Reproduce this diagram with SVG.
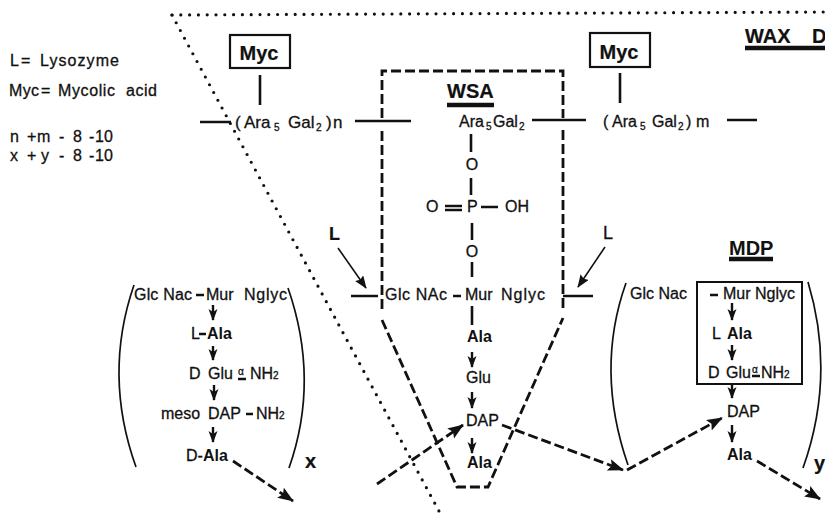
<svg xmlns="http://www.w3.org/2000/svg" width="825" height="513" viewBox="0 0 825 513">
<style>
text{font-family:"Liberation Sans",Arial,sans-serif;fill:#111;font-size:16px;stroke:#111;stroke-width:.3}
.b{font-weight:bold;stroke-width:0}
.h{font-weight:bold;font-size:20px;stroke-width:.2}
.g{font-size:17px}
.s{font-size:10px}
.l{stroke:#111;stroke-width:2.6;fill:none}
.t{stroke:#111;stroke-width:1.7;fill:none}
.u{stroke:#111;stroke-width:4.5;fill:none}
.dot{stroke:#111;stroke-width:3.2;fill:none;stroke-linecap:round;stroke-dasharray:0 8.8}
.d{stroke:#111;stroke-width:2.8;fill:none;stroke-dasharray:10 4}
.a{stroke:#111;stroke-width:2.4;fill:none;marker-end:url(#ah)}
.da{stroke:#111;stroke-width:2.8;fill:none;stroke-dasharray:10 4;marker-end:url(#ah2)}
.th{stroke:#111;stroke-width:1.6;fill:none;marker-end:url(#ah3)}
.box{fill:#fff;stroke:#111;stroke-width:2.2}
</style>
<defs>
<marker id="ah" markerUnits="userSpaceOnUse" markerWidth="13" markerHeight="11" refX="11" refY="5" orient="auto"><path d="M0 0.5L12 5L0 9.5L3 5Z" fill="#111"/></marker>
<marker id="ah2" markerUnits="userSpaceOnUse" markerWidth="17" markerHeight="14" refX="15" refY="6" orient="auto"><path d="M0 0L16 6L0 12L3 6Z" fill="#111"/></marker>
<marker id="ah3" markerUnits="userSpaceOnUse" markerWidth="14" markerHeight="12" refX="12" refY="5" orient="auto"><path d="M0 0L13 5L0 10L2 5Z" fill="#111"/></marker>
</defs>
<g id="connectors">
<path class="dot" d="M172 15L825 12"/>
<path class="dot" d="M172 15L440 513"/>
<path class="d" d="M382 118V71H563V118M382 131V310M563 130V312M382 320L457 487H488L563 318"/>
<path class="l" d="M260 75V105M200 122H231M355 121H411M532 120H586M727 120H757M620 73V103M471 134V152M471 178V195M472 223V240M472 262V277M351 296H378M563 296H593M472 306V325M481 207H498M445 206H462M445 210H462M196 295H204M453 296H461M246 414H253M710 295H718M199 334H206"/>
<path class="th" d="M338 248L366 288"/>
<path class="th" d="M605 247L578 287"/>
<path class="a" d="M213 305V320"/><path class="a" d="M213 346V360"/><path class="a" d="M214 385V400"/><path class="a" d="M213 427V442"/>
<path class="a" d="M472 352V367"/><path class="a" d="M472 392V408"/><path class="a" d="M472 438V453"/>
<path class="a" d="M732 303V320"/><path class="a" d="M732 345V360"/><path class="a" d="M732 385V398"/><path class="a" d="M732 425V442"/>
<path class="da" d="M233 461L293 501"/>
<path class="da" d="M377 484L463 425"/>
<path class="da" d="M502 425L623 470"/>
<path class="da" d="M627 470L722 418"/>
<path class="da" d="M757 461L820 499"/>
<path class="t" d="M134 285Q103 375 136 467"/>
<path class="t" d="M288 288Q320 380 289 468"/>
<path class="t" d="M626 283Q595 370 628 465"/>
<path class="t" d="M808 282Q836 375 803 468"/>
</g>
<g id="legend">
<text x="10" y="66">L</text><text x="21" y="66" textLength="12">=</text><text x="40" y="66" textLength="79">Lysozyme</text>
<text x="9" y="96" textLength="30">Myc</text><text x="41" y="96" textLength="12">=</text><text x="58" y="96" textLength="57">Mycolic</text><text x="126" y="96" textLength="31">acid</text>
<text x="10" y="142">n</text><text x="27" y="142">+</text><text x="37" y="142">m</text><text x="59" y="142">-</text><text x="73" y="142">8</text><text x="89" y="142">-</text><text x="95" y="142">10</text>
<text x="10" y="161">x</text><text x="27" y="161">+</text><text x="41" y="161">y</text><text x="59" y="161">-</text><text x="73" y="161">8</text><text x="89" y="161">-</text><text x="95" y="161">10</text>
</g>
<g id="myc-left"><rect class="box" x="230" y="35" width="60" height="33"/><text class="h" x="259" y="60" text-anchor="middle">Myc</text></g>
<g id="myc-right"><rect class="box" x="590" y="33" width="60" height="34"/><text class="h" x="619" y="59" text-anchor="middle">Myc</text></g>
<g id="wax"><text class="h" x="745" y="43">WAX</text><text class="h" x="812" y="43">D</text><path class="u" d="M745 48H825"/></g>
<g id="wsa"><text class="h" x="447" y="98">WSA</text><path class="u" d="M447 105H494"/></g>
<g id="mdp"><text class="h" x="729" y="255" style="stroke-width:0">MDP</text><path class="u" d="M729 259H773"/></g>
<g id="ara-n"><text class="g" y="128"><tspan x="235">(</tspan><tspan x="244">Ara</tspan><tspan class="s" x="274" dy="3">5</tspan><tspan x="288" dy="-3">Gal</tspan><tspan class="s" x="316" dy="3">2</tspan><tspan x="326" dy="-3">)</tspan><tspan x="333">n</tspan></text></g>
<g id="ara-m"><text y="127"><tspan x="603">(</tspan><tspan x="612">Ara</tspan><tspan class="s" x="640" dy="3">5</tspan><tspan x="652" dy="-3">Gal</tspan><tspan class="s" x="678" dy="3">2</tspan><tspan x="686" dy="-3">)</tspan><tspan x="696">m</tspan></text></g>
<g id="wsa-chain">
<text y="127"><tspan x="459">Ara</tspan><tspan class="s" x="486" dy="3">5</tspan><tspan x="493" dy="-3">Gal</tspan><tspan class="s" x="519" dy="3">2</tspan></text>
<text x="472" y="170" text-anchor="middle">O</text>
<text x="426" y="212">O</text><text x="467" y="212">P</text><text x="505" y="212">OH</text>
<text x="472" y="257" text-anchor="middle">O</text>
<text x="385" y="300" textLength="62">Glc NAc</text><text x="465" y="300">Mur</text><text x="501" y="300" textLength="44">Nglyc</text>
<text class="b" x="467" y="342">Ala</text><text x="466" y="383">Glu</text><text x="466" y="426">DAP</text><text class="b" x="467" y="468">Ala</text>
</g>
<g id="lys-left"><text class="h" x="329" y="240" style="font-size:18px">L</text></g>
<g id="lys-right"><text x="603" y="239" style="font-size:18px">L</text></g>
<g id="chain-x">
<text x="134" y="300" textLength="58">Glc Nac</text><text x="206" y="300">Mur</text><text x="244" y="300" textLength="43">Nglyc</text>
<text x="191" y="339">L</text><text class="b" x="207" y="339">Ala</text>
<text x="189" y="379">D</text><text x="208" y="379">Glu</text><text class="s" x="238" y="375">α</text><text x="250" y="379">NH<tspan class="s">2</tspan></text>
<text x="161" y="419">meso</text><text x="208" y="419">DAP</text><text x="256" y="419">NH<tspan class="s">2</tspan></text>
<text x="186" y="461">D-<tspan class="b">Ala</tspan></text>
<text class="h" x="305" y="468">x</text>
</g>
<g id="chain-y">
<text x="630" y="299">Glc Nac</text>
<rect x="697" y="282" width="105" height="102" fill="none" stroke="#111" stroke-width="2"/>
<text x="723" y="299">Mur Nglyc</text>
<text x="712" y="339">L</text><text class="b" x="727" y="339">Ala</text>
<text x="708" y="378">D</text><text x="726" y="378">Glu</text><text class="s" x="752" y="373">α</text><text x="761" y="378">NH<tspan class="s">2</tspan></text>
<text x="727" y="417">DAP</text><text class="b" x="727" y="460">Ala</text>
<text class="h" x="814" y="470">y</text>
</g>
<path class="l" d="M238 379H246M752 376H760"/>
</svg>
